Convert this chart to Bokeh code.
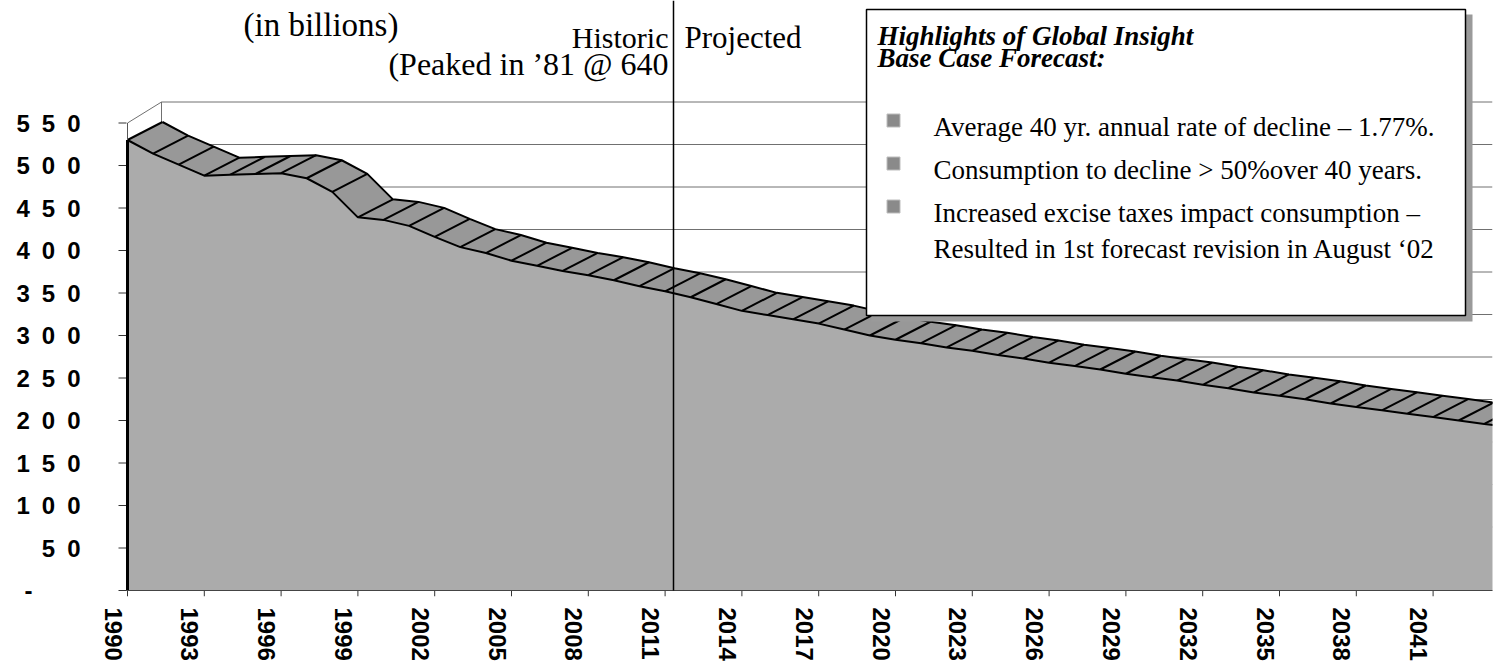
from bokeh.plotting import figure
from bokeh.models import Range1d, FixedTicker
from bokeh.core.properties import value
from bokeh.embed import file_html
from bokeh.resources import INLINE

# ---------------- data ----------------
years = list(range(1990, 2045))
consumption = [530, 514, 501, 488, 489, 490, 491, 485, 469, 439,
               436, 429, 416, 404, 397, 388, 382, 376, 371, 365,
               358, 352, 345, 337, 329, 324, 319, 314, 307, 300,
               295, 291, 286, 282, 277, 273, 268, 264, 260, 255,
               251, 247, 242, 238, 233, 229, 225, 220, 216, 212,
               208, 204, 200, 196, 192]
x_tick_years = list(range(1990, 2045, 3))
y_ticks = [0, 50, 100, 150, 200, 250, 300, 350, 400, 450, 500, 550]
y_tick_labels = {v: ("-" + "\u2002" * 4 if v == 0 else "\u2002".join(str(v))) for v in y_ticks}

title_unit = "(in billions)"
historic_label = "Historic"
peak_label = "(Peaked in \u201981 @ 640"
projected_label = "Projected"
box_title = ["Highlights of Global Insight", "Base Case Forecast:"]
box_items = ["Average 40 yr. annual rate of decline \u2013 1.77%.",
             "Consumption to decline > 50%over 40 years.",
             "Increased excise taxes impact consumption \u2013",
             "Resulted in 1st forecast revision in August \u201802"]

# ---------------- geometry (page pixels; canvas sits at page 0,0) ----------------
W, H = 1500, 666
PX_YEAR = 25.6
PX_UNIT = 0.85
AXIS_X = 127          # page x of 1990
AXIS_Y = 590          # page y of value 0
FRAME_L, FRAME_R, FRAME_T, FRAME_B = 100, 1492, 0, 596
BL, BR, BT, BB = FRAME_L, W - FRAME_R, FRAME_T, H - FRAME_B

X_START = 1990 - (AXIS_X - FRAME_L) / PX_YEAR
X_END = 1990 + (FRAME_R - AXIS_X) / PX_YEAR
Y_START = -(FRAME_B - AXIS_Y) / PX_UNIT
Y_END = (AXIS_Y - FRAME_T) / PX_UNIT


def px(page_x):
    return 1990 + (page_x - AXIS_X) / PX_YEAR


def py(page_y):
    return (AXIS_Y - page_y) / PX_UNIT


DEPTH_X, DEPTH_Y = 35 / PX_YEAR, 18 / PX_UNIT
WALL_X, WALL_Y = 34 / PX_YEAR, 21 / PX_UNIT
LABEL_SHIFT = 0.5625
TICK_LEN = 6 / PX_UNIT

p = figure(width=W, height=H, x_range=Range1d(X_START, X_END), y_range=Range1d(Y_START, Y_END),
           x_axis_location=None, toolbar_location=None, output_backend="svg",
           min_border_left=BL, min_border_right=BR, min_border_top=BT, min_border_bottom=BB)
p.outline_line_color = None
p.grid.visible = False
p.background_fill_color = "white"

# y axis (labels only; ticks drawn as glyphs)
ya = p.yaxis[0]
ya.ticker = FixedTicker(ticks=y_ticks)
ya.major_label_overrides = y_tick_labels
ya.axis_line_color = None
ya.major_tick_out = 0
ya.major_tick_in = 0
ya.minor_tick_out = 0
ya.minor_tick_in = 0
ya.major_label_standoff = 20
ya.major_label_text_font = "Liberation Sans"
ya.major_label_text_font_style = "bold"
ya.major_label_text_font_size = "24px"
ya.major_label_text_color = "black"

# x axis labels (shifted left as in the 3-D original)
from bokeh.models import LinearAxis
p.extra_x_ranges = {"labels": Range1d(X_START + LABEL_SHIFT, X_END + LABEL_SHIFT)}
label_axis = LinearAxis(x_range_name="labels", ticker=FixedTicker(ticks=x_tick_years),
                        axis_line_color=None, major_tick_out=0, major_tick_in=0,
                        minor_tick_out=0, minor_tick_in=0,
                        major_label_orientation="vertical", major_label_standoff=11,
                        major_label_text_font="Liberation Sans", major_label_text_font_style="bold",
                        major_label_text_font_size="24px", major_label_text_color="black")
p.add_layout(label_axis, "below")

# back wall gridlines
grid_vals = [v for v in y_ticks if v > 0]
p.segment(x0=[1990 + WALL_X] * len(grid_vals), y0=[v + WALL_Y for v in grid_vals],
          x1=[X_END] * len(grid_vals), y1=[v + WALL_Y for v in grid_vals],
          line_color="#707070", line_width=1)
top = y_ticks[-1]
p.segment(x0=[1990, 1990 + WALL_X], y0=[top, WALL_Y], x1=[1990 + WALL_X, 1990 + WALL_X],
          y1=[top + WALL_Y, top + WALL_Y], line_color="#707070", line_width=1)

# tick marks
p.segment(x0=[px(118)] * len(y_ticks), y0=y_ticks, x1=[px(126)] * len(y_ticks), y1=y_ticks,
          line_color="#333333", line_width=1)
p.segment(x0=x_tick_years, y0=[0] * len(x_tick_years), x1=x_tick_years,
          y1=[-TICK_LEN] * len(x_tick_years), line_color="#333333", line_width=1)

# 3-D band (top face)
back_x = [y + DEPTH_X for y in years]
back_y = [c + DEPTH_Y for c in consumption]
p.patch(x=years + back_x[::-1], y=consumption + back_y[::-1],
        fill_color="#989898", line_color=None)
p.segment(x0=years, y0=consumption, x1=back_x, y1=back_y, line_color="black", line_width=2)
p.line(back_x, back_y, line_color="black", line_width=2)

# front face
p.varea(x=years, y1=[0] * len(years), y2=consumption, fill_color="#ababab")
p.line(years, consumption, line_color="black", line_width=2)
p.segment(x0=[1990], y0=[0], x1=[1990], y1=[consumption[0]], line_color="black", line_width=3)
p.segment(x0=[1990], y0=[consumption[0]], x1=[1990], y1=[top], line_color="#555555", line_width=1)
p.segment(x0=[1990], y0=[0], x1=[years[-1]], y1=[0], line_color="#444444", line_width=1)

# historic / projected divider
p.segment(x0=[px(673)], y0=[0], x1=[px(673)], y1=[Y_END], line_color="black", line_width=1.5)

serif = value("Liberation Serif")
p.text(x=[px(243)], y=[py(24)], text=[title_unit], text_font=serif, text_font_size="33px",
       text_align="left", text_baseline="alphabetic", text_color="black")
p.text(x=[px(668)], y=[py(37)], text=[historic_label],
       text_font=serif, text_font_size="30px", text_align="right",
       text_baseline="alphabetic", text_color="black")
p.text(x=[px(668)], y=[py(63)], text=[peak_label],
       text_font=serif, text_font_size="32px", text_align="right",
       text_baseline="alphabetic", text_color="black")
p.text(x=[px(684)], y=[py(37)], text=[projected_label], text_font=serif, text_font_size="31px",
       text_align="left", text_baseline="alphabetic", text_color="black")

# highlights box
p.quad(left=[px(871)], right=[px(1472)], top=[py(14)], bottom=[py(321)],
       fill_color="#9a9a9a", line_color=None)
p.quad(left=[px(866)], right=[px(1465)], top=[py(9)], bottom=[py(315)],
       fill_color="white", line_color="black", line_width=1.5)
p.text(x=[px(877)] * 2, y=[py(35), py(57)], text=box_title, text_font=serif,
       text_font_size="27px", text_font_style="bold italic", text_align="left",
       text_baseline="alphabetic", text_color="black")
p.scatter(x=[px(893)] * 3, y=[py(120), py(163), py(206)], marker="square", size=13,
          fill_color="#8a8a8a", line_color="#bdbdbd", line_width=1)
p.text(x=[px(933)] * 4, y=[py(126), py(169), py(212), py(248)], text=box_items,
       text_font=serif, text_font_size="27px", text_align="left",
       text_baseline="alphabetic", text_color="black")

open("out.html", "w").write(file_html(p, INLINE))
